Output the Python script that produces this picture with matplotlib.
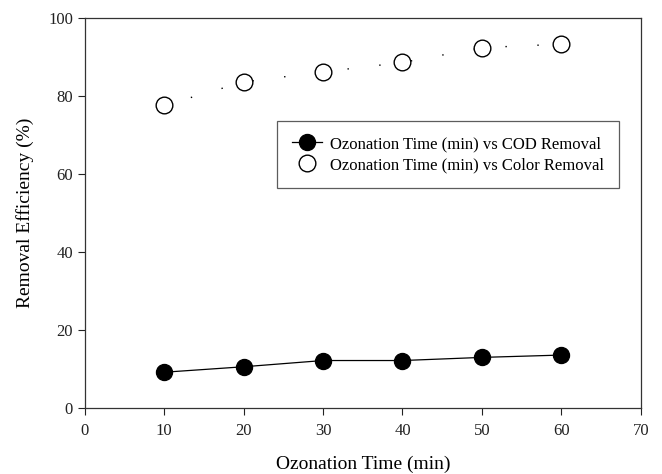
import numpy as np
import matplotlib.pyplot as plt

plt.rcParams['font.family'] = ['Liberation Serif', 'DejaVu Serif']

time_min = [10, 20, 30, 40, 50, 60]
cod_removal = [9.2, 10.6, 12.2, 12.2, 13.0, 13.6]
color_removal = [77.6, 83.6, 86.2, 88.6, 92.4, 93.3]

fig = plt.figure(figsize=(6.62, 4.74), dpi=100)
ax = fig.add_axes([0.128, 0.139, 0.84, 0.823])

ax.plot(time_min, cod_removal, color="black", lw=0.9, marker="o",
        ms=11.5, mfc="black", mec="black",
        label="Ozonation Time (min) vs COD Removal")
# sparse dotted connector of the colour series
ax.plot(time_min, color_removal, color="black", lw=1.0,
        linestyle=(3, (1, 22)))
ax.plot(time_min, color_removal, linestyle="none", marker="o",
        ms=12, mfc="white", mec="black", mew=1.0,
        label="Ozonation Time (min) vs Color Removal")

ax.set(xlim=(0, 70), ylim=(0, 100))
ax.set_xticks(np.arange(0, 71, 10))
ax.set_yticks(np.arange(0, 101, 20))
ax.tick_params(direction="out", length=5, width=0.8, labelsize=12,
               colors="#222222")
ax.tick_params(axis="x", pad=6)
for s in ax.spines.values():
    s.set_linewidth(0.9)
    s.set_color("#333333")

ax.set_xlabel("Ozonation Time (min)", fontsize=14, labelpad=12)
ax.set_ylabel("Removal Efficiency (%)", fontsize=14, labelpad=10)

leg = ax.legend(loc="upper left", bbox_to_anchor=(0.33, 0.757),
                fontsize=12, frameon=True, fancybox=False,
                edgecolor="#333333", borderpad=0.9, handlelength=1.8,
                handletextpad=0.5, labelspacing=0.3)
leg.get_frame().set_linewidth(0.9)

fig.savefig("out.png", dpi=100)
